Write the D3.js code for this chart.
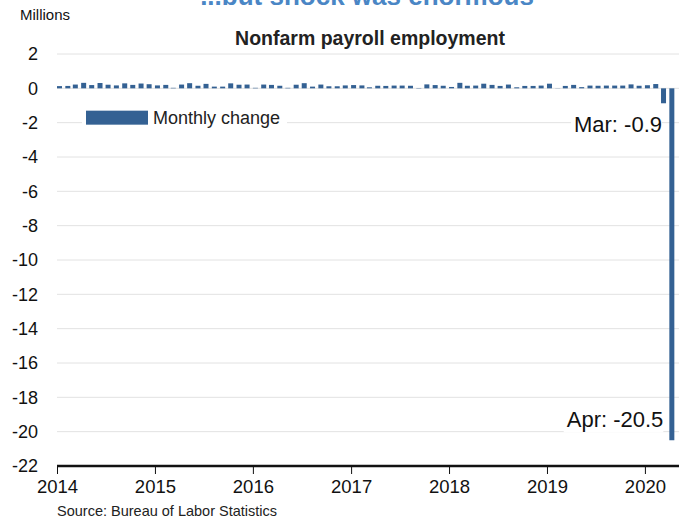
<!DOCTYPE html>
<html lang="en">
<head>
  <meta charset="UTF-8">
  <title>Nonfarm payroll employment</title>
  <script src="https://d3js.org/d3.v7.min.js"></script>
  <style>
    body {
      margin: 0;
      font-family: "Liberation Sans", Arial, sans-serif;
      background: #fff;
    }
    .grid line {
      stroke: #e2e2e2;
      stroke-width: 1px;
    }
  </style>
</head>
<body>
  <svg id="chart" width="679" height="520"></svg>
  <script>
    // monthly change in nonfarm payrolls, millions, Jan 2014 - Apr 2020
    const startYear = 2014;
    const values2014 = [0.13, 0.14, 0.22, 0.32, 0.19, 0.31, 0.21, 0.17, 0.29, 0.20, 0.28, 0.24];
    const values2015 = [0.17, 0.20, 0.03, 0.22, 0.30, 0.15, 0.26, 0.10, 0.10, 0.29, 0.21, 0.22];
    const values2016 = [0.03, 0.22, 0.20, 0.15, 0.03, 0.21, 0.30, 0.10, 0.22, 0.12, 0.12, 0.17];
    const values2017 = [0.19, 0.17, 0.06, 0.15, 0.14, 0.16, 0.16, 0.15, 0.02, 0.23, 0.19, 0.15];
    const values2018 = [0.08, 0.32, 0.15, 0.16, 0.27, 0.20, 0.14, 0.22, 0.06, 0.14, 0.14, 0.16];
    const values2019 = [0.27, 0.01, 0.14, 0.20, 0.07, 0.16, 0.15, 0.16, 0.16, 0.16, 0.23, 0.15];
    const values2020 = [0.18, 0.25, -0.87, -20.5];

    const yTicks = [2, 0, -2, -4, -6, -8, -10, -12, -14, -16, -18, -20, -22];
    const annotations = [
      { month: "2020-03", text: "Mar: -0.9" },
      { month: "2020-04", text: "Apr: -20.5" }
    ];

    const data = [values2014, values2015, values2016, values2017, values2018, values2019, values2020]
      .flatMap((vals, yi) => vals.map((v, m) => ({
        date: new Date(startYear + yi, m, 1),
        value: v
      })));

    const margin = { top: 54, right: 0, bottom: 54, left: 57 },
          width = 679 - margin.left - margin.right,
          height = 520 - margin.top - margin.bottom;

    const root = d3.select("#chart");

    // title, cut off at the top like the original
    root.append("text")
      .attr("x", 367)
      .attr("y", 5)
      .attr("text-anchor", "middle")
      .attr("font-size", "26px")
      .attr("font-weight", "bold")
      .attr("fill", "#4a86c5")
      .text("...but shock was enormous");

    root.append("text")
      .attr("x", 20)
      .attr("y", 20)
      .attr("font-size", "15px")
      .attr("fill", "#111")
      .text("Millions");

    root.append("text")
      .attr("x", 370)
      .attr("y", 45)
      .attr("text-anchor", "middle")
      .attr("font-size", "19.5px")
      .attr("font-weight", "bold")
      .attr("fill", "#222")
      .text("Nonfarm payroll employment");

    root.append("text")
      .attr("x", 57)
      .attr("y", 516)
      .attr("font-size", "14.5px")
      .attr("fill", "#222")
      .text("Source: Bureau of Labor Statistics");

    const svg = root.append("g")
      .attr("transform", `translate(${margin.left},${margin.top})`);

    const xScale = d3.scaleTime()
      .domain([new Date(2014, 0, 1), new Date(2020, 4, 7)])
      .range([0, width]);

    const yScale = d3.scaleLinear()
      .domain([2, -22])
      .range([0, height]);

    // gridlines
    svg.append("g")
      .attr("class", "grid")
      .selectAll("line")
      .data(yTicks.slice(0, -1))
      .enter()
      .append("line")
      .attr("x1", 0)
      .attr("x2", width)
      .attr("y1", d => yScale(d))
      .attr("y2", d => yScale(d));

    // y labels
    svg.append("g")
      .selectAll("text")
      .data(yTicks)
      .enter()
      .append("text")
      .attr("x", -19)
      .attr("y", d => yScale(d))
      .attr("dy", "0.35em")
      .attr("text-anchor", "end")
      .attr("font-size", "18px")
      .attr("fill", "#111")
      .text(d => d);

    // bars
    const barWidth = 5;
    svg.selectAll(".bar")
      .data(data)
      .enter()
      .append("rect")
      .attr("class", "bar")
      .attr("x", d => xScale(d.date))
      .attr("y", d => yScale(Math.max(0, d.value)))
      .attr("width", barWidth)
      .attr("height", d => Math.abs(yScale(d.value) - yScale(0)))
      .attr("fill", "#346193");

    // x axis
    const xAxis = d3.axisBottom(xScale)
      .ticks(d3.timeYear.every(1))
      .tickFormat(d3.timeFormat("%Y"))
      .tickSize(8)
      .tickPadding(6);

    const gx = svg.append("g")
      .attr("transform", `translate(0,${yScale(-22)})`)
      .call(xAxis);

    gx.select(".domain")
      .attr("d", `M0,0H${width}`)
      .attr("stroke", "#111")
      .attr("stroke-width", 2.5);
    gx.selectAll(".tick line").attr("stroke", "#111");
    gx.selectAll(".tick text")
      .attr("font-size", "18.5px")
      .attr("font-family", "'Liberation Sans', Arial, sans-serif")
      .attr("fill", "#111");

    // legend
    const legend = svg.append("g")
      .attr("transform", `translate(29, ${yScale(-2) - 12})`);

    legend.append("rect")
      .attr("x", -4)
      .attr("y", -6)
      .attr("width", 205)
      .attr("height", 26)
      .attr("fill", "#fff");

    legend.append("rect")
      .attr("width", 62)
      .attr("height", 14)
      .attr("fill", "#346193");

    legend.append("text")
      .attr("x", 67)
      .attr("y", 13)
      .attr("font-size", "18px")
      .attr("fill", "#222")
      .text("Monthly change");

    // annotations for Mar and Apr 2020
    const parseMonth = d3.timeParse("%Y-%m");
    annotations.forEach((a, i) => {
      const d = data.find(p => +p.date === +parseMonth(a.month));
      const ax = xScale(d.date);
      const ay = i === 0 ? yScale(-2) + 9 : yScale(d.value) - 13;
      const g = svg.append("g");
      const bg = g.append("rect").attr("fill", "#fff");
      const t = g.append("text")
        .attr("x", i === 0 ? ax + 1 : ax - 6)
        .attr("y", ay)
        .attr("text-anchor", "end")
        .attr("font-size", "22px")
        .attr("fill", "#111")
        .text(a.text);
      const bb = t.node().getBBox();
      bg.attr("x", bb.x - 3).attr("y", bb.y)
        .attr("width", bb.width + 3).attr("height", bb.height);
    });
  </script>
</body>
</html>
